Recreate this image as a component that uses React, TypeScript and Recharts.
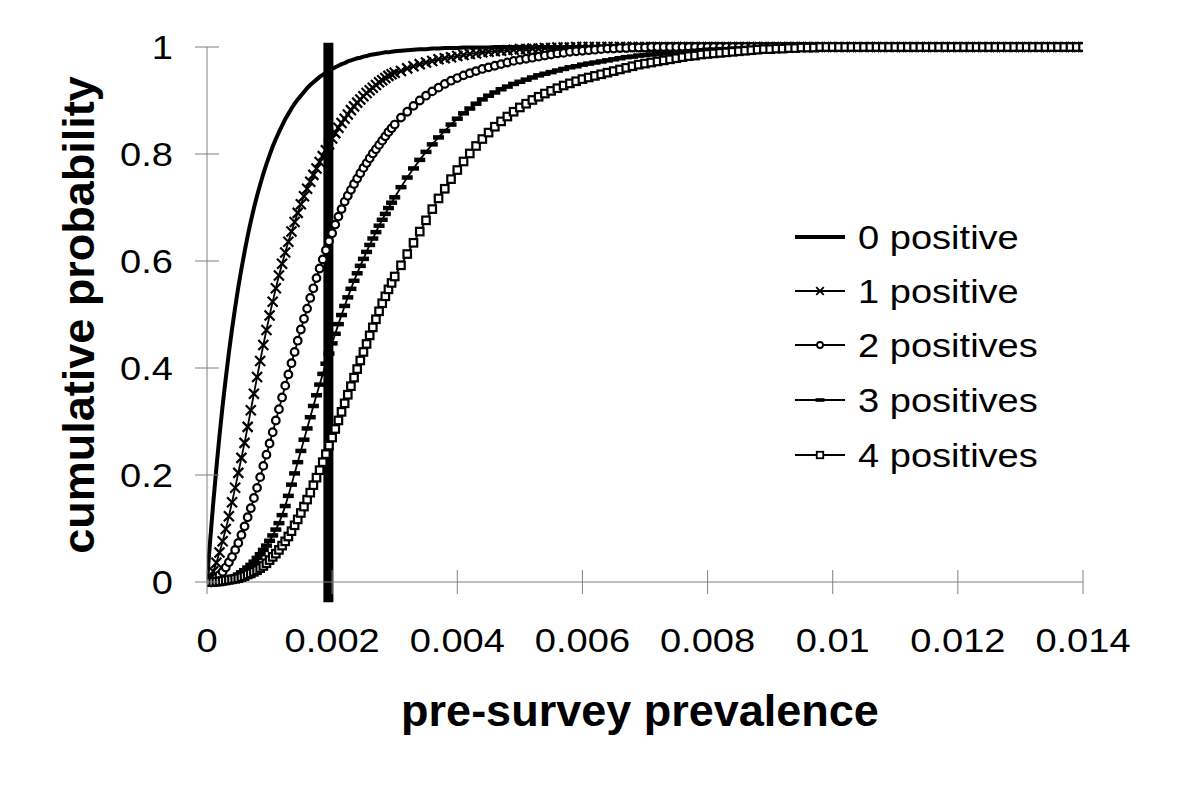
import { LineChart, Line, XAxis, YAxis, ReferenceLine, Legend } from "recharts";

// prevalence grid, in units of 1e-4
const prevalenceE4 = [
  0, 0.5, 1, 1.5, 2, 2.5, 3, 3.5, 4, 4.5,
  5, 5.5, 6, 6.5, 7, 7.5, 8, 8.5, 9, 9.5,
  10, 10.5, 11, 11.5, 12, 12.5, 13, 13.5, 14, 14.5,
  15, 15.5, 16, 16.5, 17, 17.5, 18, 18.5, 19, 19.5,
  20, 20.5, 21, 21.5, 22, 22.5, 23, 23.5, 24, 24.5,
  25, 25.5, 26, 26.5, 27, 27.5, 28, 28.5, 29, 29.5,
  30,
  31, 32, 33, 34, 35, 36, 37, 38, 39, 40,
  41, 42, 43, 44, 45, 46, 47, 48, 49, 50,
  51, 52, 53, 54, 55, 56, 57, 58, 59, 60,
  61, 62, 63, 64, 65, 66, 67, 68, 69, 70,
  71, 72, 73, 74, 75, 76, 77, 78, 79, 80,
  81, 82, 83, 84, 85, 86, 87, 88, 89, 90,
  91, 92, 93, 94, 95, 96, 97, 98, 99, 100,
  101, 102, 103, 104, 105, 106, 107, 108, 109, 110,
  111, 112, 113, 114, 115, 116, 117, 118, 119, 120,
  121, 122, 123, 124, 125, 126, 127, 128, 129, 130,
  131, 132, 133, 134, 135, 136, 137, 138, 139, 140,
];

const zeroPositive = [
  0, 0.077, 0.148, 0.213, 0.274, 0.33, 0.381, 0.429, 0.473, 0.513,
  0.551, 0.585, 0.617, 0.647, 0.674, 0.699, 0.722, 0.743, 0.763, 0.781,
  0.798, 0.814, 0.828, 0.841, 0.853, 0.865, 0.875, 0.885, 0.894, 0.902,
  0.909, 0.916, 0.923, 0.929, 0.934, 0.939, 0.944, 0.948, 0.952, 0.956,
  0.959, 0.962, 0.965, 0.968, 0.97, 0.973, 0.975, 0.977, 0.979, 0.98,
  0.982, 0.983, 0.985, 0.986, 0.987, 0.988, 0.989, 0.99, 0.99, 0.991,
  0.992,
  0.993, 0.994, 0.995, 0.996, 0.996, 0.997, 0.997, 0.998, 0.998, 0.998,
  0.999, 0.999, 0.999, 0.999, 0.999, 1, 1, 1, 1, 1,
  1, 1, 1, 1, 1, 1, 1, 1, 1, 1,
  1, 1, 1, 1, 1, 1, 1, 1, 1, 1,
  1, 1, 1, 1, 1, 1, 1, 1, 1, 1,
  1, 1, 1, 1, 1, 1, 1, 1, 1, 1,
  1, 1, 1, 1, 1, 1, 1, 1, 1, 1,
  1, 1, 1, 1, 1, 1, 1, 1, 1, 1,
  1, 1, 1, 1, 1, 1, 1, 1, 1, 1,
  1, 1, 1, 1, 1, 1, 1, 1, 1, 1,
  1, 1, 1, 1, 1, 1, 1, 1, 1, 1,
];

const onePositive = [
  0, 0.008, 0.02, 0.036, 0.055, 0.076, 0.099, 0.123, 0.149, 0.176,
  0.204, 0.232, 0.26, 0.29, 0.321, 0.352, 0.383, 0.413, 0.443, 0.471,
  0.498, 0.524, 0.549, 0.573, 0.595, 0.616, 0.636, 0.655, 0.673, 0.69,
  0.706, 0.721, 0.735, 0.748, 0.761, 0.773, 0.785, 0.796, 0.807, 0.818,
  0.829, 0.839, 0.849, 0.858, 0.866, 0.874, 0.882, 0.889, 0.896, 0.902,
  0.908, 0.914, 0.919, 0.924, 0.929, 0.934, 0.938, 0.942, 0.946, 0.949,
  0.952,
  0.955, 0.96, 0.964, 0.968, 0.971, 0.974, 0.977, 0.979, 0.981, 0.983,
  0.985, 0.987, 0.988, 0.99, 0.991, 0.992, 0.993, 0.994, 0.995, 0.996,
  0.996, 0.997, 0.997, 0.998, 0.998, 0.999, 0.999, 0.999, 1, 1,
  1, 1, 1, 1, 1, 1, 1, 1, 1, 1,
  1, 1, 1, 1, 1, 1, 1, 1, 1, 1,
  1, 1, 1, 1, 1, 1, 1, 1, 1, 1,
  1, 1, 1, 1, 1, 1, 1, 1, 1, 1,
  1, 1, 1, 1, 1, 1, 1, 1, 1, 1,
  1, 1, 1, 1, 1, 1, 1, 1, 1, 1,
  1, 1, 1, 1, 1, 1, 1, 1, 1, 1,
  1, 1, 1, 1, 1, 1, 1, 1, 1, 1,
];

const twoPositives = [
  0, 0.001, 0.004, 0.008, 0.013, 0.019, 0.027, 0.037, 0.047, 0.06,
  0.073, 0.088, 0.104, 0.121, 0.138, 0.157, 0.176, 0.196, 0.217, 0.238,
  0.259, 0.28, 0.302, 0.323, 0.345, 0.367, 0.388, 0.409, 0.43, 0.451,
  0.472, 0.492, 0.511, 0.531, 0.549, 0.568, 0.586, 0.603, 0.62, 0.637,
  0.652, 0.668, 0.683, 0.697, 0.711, 0.722, 0.733, 0.744, 0.754, 0.764,
  0.774, 0.783, 0.792, 0.801, 0.809, 0.817, 0.825, 0.833, 0.841, 0.848,
  0.855,
  0.868, 0.879, 0.89, 0.9, 0.909, 0.917, 0.924, 0.931, 0.937, 0.942,
  0.947, 0.951, 0.955, 0.959, 0.962, 0.965, 0.968, 0.971, 0.974, 0.976,
  0.978, 0.98, 0.982, 0.984, 0.986, 0.988, 0.989, 0.991, 0.992, 0.993,
  0.994, 0.995, 0.996, 0.997, 0.997, 0.998, 0.998, 0.999, 0.999, 0.999,
  1, 1, 1, 1, 1, 1, 1, 1, 1, 1,
  1, 1, 1, 1, 1, 1, 1, 1, 1, 1,
  1, 1, 1, 1, 1, 1, 1, 1, 1, 1,
  1, 1, 1, 1, 1, 1, 1, 1, 1, 1,
  1, 1, 1, 1, 1, 1, 1, 1, 1, 1,
  1, 1, 1, 1, 1, 1, 1, 1, 1, 1,
  1, 1, 1, 1, 1, 1, 1, 1, 1, 1,
];

const threePositives = [
  0, 0, 0, 0.0005, 0.001, 0.002, 0.003, 0.005, 0.007, 0.01,
  0.014, 0.018, 0.022, 0.027, 0.032, 0.038, 0.045, 0.052, 0.06, 0.068,
  0.077, 0.087, 0.098, 0.11, 0.125, 0.142, 0.161, 0.182, 0.203, 0.224,
  0.245, 0.266, 0.287, 0.308, 0.329, 0.349, 0.369, 0.389, 0.408, 0.427,
  0.446, 0.464, 0.482, 0.499, 0.516, 0.532, 0.548, 0.563, 0.577, 0.591,
  0.604, 0.617, 0.63, 0.642, 0.654, 0.666, 0.677, 0.688, 0.699, 0.709,
  0.719,
  0.738, 0.756, 0.773, 0.789, 0.804, 0.818, 0.831, 0.843, 0.855, 0.866,
  0.876, 0.885, 0.894, 0.902, 0.909, 0.915, 0.921, 0.926, 0.931, 0.935,
  0.939, 0.943, 0.947, 0.95, 0.953, 0.956, 0.959, 0.962, 0.964, 0.967,
  0.969, 0.971, 0.973, 0.975, 0.977, 0.979, 0.981, 0.982, 0.984, 0.985,
  0.986, 0.987, 0.988, 0.989, 0.99, 0.991, 0.992, 0.993, 0.994, 0.995,
  0.995, 0.996, 0.996, 0.997, 0.997, 0.998, 0.998, 0.999, 0.999, 0.999,
  1, 1, 1, 1, 1, 1, 1, 1, 1, 1,
  1, 1, 1, 1, 1, 1, 1, 1, 1, 1,
  1, 1, 1, 1, 1, 1, 1, 1, 1, 1,
  1, 1, 1, 1, 1, 1, 1, 1, 1, 1,
  1, 1, 1, 1, 1, 1, 1, 1, 1, 1,
];

const fourPositives = [
  0, 0, 0, 0.0005, 0.001, 0.002, 0.003, 0.004, 0.005, 0.006,
  0.007, 0.009, 0.011, 0.014, 0.016, 0.019, 0.022, 0.026, 0.03, 0.035,
  0.041, 0.047, 0.053, 0.06, 0.068, 0.076, 0.085, 0.095, 0.106, 0.117,
  0.129, 0.141, 0.154, 0.167, 0.181, 0.195, 0.209, 0.224, 0.239, 0.255,
  0.27, 0.286, 0.302, 0.318, 0.334, 0.35, 0.366, 0.382, 0.398, 0.414,
  0.43, 0.445, 0.461, 0.476, 0.491, 0.506, 0.521, 0.534, 0.547, 0.559,
  0.571,
  0.592, 0.613, 0.634, 0.655, 0.676, 0.697, 0.717, 0.735, 0.753, 0.77,
  0.786, 0.801, 0.815, 0.828, 0.84, 0.851, 0.861, 0.87, 0.879, 0.887,
  0.894, 0.901, 0.907, 0.913, 0.918, 0.923, 0.928, 0.932, 0.936, 0.94,
  0.943, 0.946, 0.949, 0.952, 0.955, 0.958, 0.961, 0.964, 0.967, 0.969,
  0.971, 0.973, 0.975, 0.977, 0.979, 0.981, 0.983, 0.984, 0.986, 0.987,
  0.988, 0.989, 0.99, 0.991, 0.992, 0.993, 0.994, 0.995, 0.996, 0.996,
  0.997, 0.997, 0.998, 0.998, 0.999, 0.999, 0.999, 1, 1, 1,
  1, 1, 1, 1, 1, 1, 1, 1, 1, 1,
  1, 1, 1, 1, 1, 1, 1, 1, 1, 1,
  1, 1, 1, 1, 1, 1, 1, 1, 1, 1,
  1, 1, 1, 1, 1, 1, 1, 1, 1, 1,
];

const xTicks = [0, 0.002, 0.004, 0.006, 0.008, 0.01, 0.012, 0.014];
const yTicks = [0, 0.2, 0.4, 0.6, 0.8, 1];
const thresholdPrevalence = 0.00194;

const seriesNames = ["0 positive", "1 positive", "2 positives", "3 positives", "4 positives"];

const data = prevalenceE4.map((p, i) => ({
  x: p / 10000,
  s0: zeroPositive[i],
  s1: onePositive[i],
  s2: twoPositives[i],
  s3: threePositives[i],
  s4: fourPositives[i],
}));

const FONT = '"Liberation Sans", Arial, Helvetica, sans-serif';
const AXIS = "#808080";
const fmt = (v: number) => String(Number(v.toFixed(3)));

// marker shapes
const crossMark = (cx: number, cy: number, s = 5, w = 2.2) => (
  <path
    d={`M${cx - s},${cy - s}L${cx + s},${cy + s}M${cx - s},${cy + s}L${cx + s},${cy - s}`}
    stroke="#000"
    strokeWidth={w}
    fill="none"
  />
);
const circleMark = (cx: number, cy: number, r = 3.8, w = 2.2) => (
  <circle cx={cx} cy={cy} r={r} fill="#fff" stroke="#000" strokeWidth={w} />
);
const dashMark = (cx: number, cy: number, w = 11, h = 4.5) => (
  <rect x={cx - w / 2} y={cy - h / 2} width={w} height={h} fill="#000" />
);
const squareMark = (cx: number, cy: number, s = 7.5, w = 2.2) => (
  <rect x={cx - s / 2} y={cy - s / 2} width={s} height={s} fill="#fff" stroke="#000" strokeWidth={w} />
);

const makeDot = (kind: string) => (props: any) => {
  const { cx, cy, index } = props;
  if (cx == null || cy == null) return <g key={`${kind}-${index}`} />;
  let el;
  if (kind === "x") el = crossMark(cx, cy);
  else if (kind === "o") el = circleMark(cx, cy);
  else if (kind === "-") el = dashMark(cx, cy);
  else el = squareMark(cx, cy);
  return <g key={`${kind}-${index}`}>{el}</g>;
};

const XTick = (props: any) => {
  const { x, y, payload } = props;
  return (
    <g>
      <line x1={x} x2={x} y1={y - 12} y2={y + 12} stroke={AXIS} strokeWidth={1} />
      <text
        transform={`translate(${x},${y + 70}) scale(1.12,1)`}
        textAnchor="middle"
        fontSize={34}
        fontFamily={FONT}
        fill="#000"
      >
        {fmt(payload.value)}
      </text>
    </g>
  );
};

const YTick = (props: any) => {
  const { x, y, payload } = props;
  return (
    <g>
      <line x1={x - 12} x2={x + 12} y1={y} y2={y} stroke={AXIS} strokeWidth={1} />
      <text
        transform={`translate(${x - 34},${y + 12}) scale(1.12,1)`}
        textAnchor="end"
        fontSize={34}
        fontFamily={FONT}
        fill="#000"
      >
        {fmt(payload.value)}
      </text>
    </g>
  );
};

const LegendBox = () => {
  const rowsY = [29, 83, 137, 192, 247];
  const markers = [null, "x", "o", "-", "s"];
  return (
    <svg width={330} height={280} style={{ overflow: "visible" }}>
      {seriesNames.map((name, i) => {
        const y = rowsY[i];
        const m = markers[i];
        return (
          <g key={name}>
            <line x1={17} x2={67} y1={y} y2={y} stroke="#000" strokeWidth={i === 0 ? 4 : 1.8} />
            {m === "x" && crossMark(42, y, 3.8, 1.8)}
            {m === "o" && circleMark(42, y, 3, 1.8)}
            {m === "-" && dashMark(42, y, 9, 3.6)}
            {m === "s" && squareMark(42, y, 6.5, 1.8)}
            <text
              transform={`translate(80,${y + 12}) scale(1.12,1)`}
              fontSize={34}
              fontFamily={FONT}
              fill="#000"
            >
              {name}
            </text>
          </g>
        );
      })}
    </svg>
  );
};

export default function App() {
  return (
    <LineChart
      width={1184}
      height={770}
      data={data}
      margin={{ top: 39, right: 109, bottom: 0, left: 0 }}
    >
      <XAxis
        dataKey="x"
        type="number"
        domain={[0, 0.014]}
        ticks={xTicks}
        interval={0}
        allowDataOverflow
        height={196}
        axisLine={{ stroke: AXIS, strokeWidth: 1 }}
        tickLine={false}
        tickSize={0}
        tickMargin={0}
        tick={<XTick />}
        label={{
          content: (p: any) => {
            const vb = p.viewBox || {};
            return (
              <text
                x={vb.x + vb.width / 2 - 5}
                y={718}
                textAnchor="middle"
                fontSize={45}
                fontWeight="bold"
                fontFamily={FONT}
                fill="#000"
              >
                pre-survey prevalence
              </text>
            );
          },
        }}
      />
      <YAxis
        type="number"
        domain={[0, 1]}
        ticks={yTicks}
        interval={0}
        width={199}
        axisLine={{ stroke: AXIS, strokeWidth: 1 }}
        tickLine={false}
        tickSize={0}
        tickMargin={0}
        tick={<YTick />}
        label={{
          content: () => (
            <text
              transform="translate(86,307) rotate(-90)"
              textAnchor="middle"
              fontSize={45}
              fontWeight="bold"
              fontFamily={FONT}
              fill="#000"
            >
              cumulative probability
            </text>
          ),
        }}
      />
      <Legend
        layout="vertical"
        align="center"
        verticalAlign="middle"
        content={() => <LegendBox />}
        wrapperStyle={{ position: "absolute", left: 770, top: 200, width: 330, height: 280 }}
      />
      <Line type="linear" dataKey="s0" name={seriesNames[0]} stroke="#000" strokeWidth={4} dot={false} activeDot={false} isAnimationActive={false} />
      <Line type="linear" dataKey="s1" name={seriesNames[1]} stroke="#000" strokeWidth={1.8} dot={makeDot("x")} activeDot={false} isAnimationActive={false} />
      <Line type="linear" dataKey="s2" name={seriesNames[2]} stroke="#000" strokeWidth={1.8} dot={makeDot("o")} activeDot={false} isAnimationActive={false} />
      <Line type="linear" dataKey="s3" name={seriesNames[3]} stroke="#000" strokeWidth={1.8} dot={makeDot("-")} activeDot={false} isAnimationActive={false} />
      <Line type="linear" dataKey="s4" name={seriesNames[4]} stroke="#000" strokeWidth={1.8} dot={makeDot("s")} activeDot={false} isAnimationActive={false} />
      <ReferenceLine
        segment={[
          { x: thresholdPrevalence, y: -0.038 },
          { x: thresholdPrevalence, y: 1.008 },
        ]}
        stroke="#000"
        strokeWidth={10}
        ifOverflow="visible"
      />
    </LineChart>
  );
}
